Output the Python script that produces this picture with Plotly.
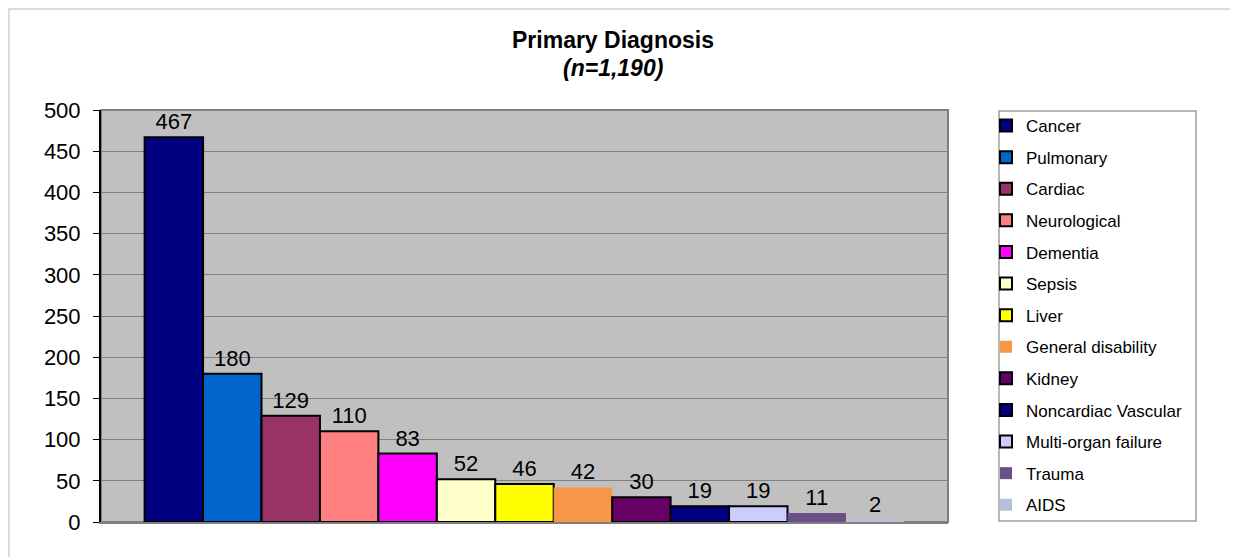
import plotly.graph_objects as go

categories = ["Cancer", "Pulmonary", "Cardiac", "Neurological", "Dementia", "Sepsis",
              "Liver", "General disability", "Kidney", "Noncardiac Vascular",
              "Multi-organ failure", "Trauma", "AIDS"]
values = [467, 180, 129, 110, 83, 52, 46, 42, 30, 19, 19, 11, 2]
colors = ["#000080", "#0066CC", "#993366", "#FF8080", "#FF00FF", "#FFFFCC",
          "#FFFF00", "#F79646", "#660066", "#000080", "#CCCCFF", "#6B5088", "#B4C0DC"]
outlined = [True, True, True, True, True, True, True, False, True, True, True, False, False]
y_ticks = [0, 50, 100, 150, 200, 250, 300, 350, 400, 450, 500]

# page body has an 8px offset; plot area in screen pixels
OFF = 8
W, H = 1238 - OFF, 557 - OFF
L, R, T, B = 101, 948, 110, 522  # screen coords of plot area


def px_x(p):
    return (p - L) / (R - L)


def px_y(p):
    return (B - p) / (B - T)


FONT = "Liberation Sans, Arial, sans-serif"

fig = go.Figure()
for i, (cat, val, col, ol) in enumerate(zip(categories, values, colors, outlined)):
    fig.add_trace(go.Bar(
        x=["Primary Diagnosis"], y=[val], name=cat,
        marker=dict(color=col, line=dict(color="black" if ol else col, width=2 if ol else 0)),
        text=[str(val)], textposition="outside",
        textfont=dict(size=22, color="black", family=FONT),
        cliponaxis=False, legendgroup=cat,
    ))

shapes = [
    # outer chart border
    dict(type="rect", xref="paper", yref="paper",
         x0=px_x(9), x1=px_x(1250), y0=px_y(570), y1=px_y(9),
         line=dict(color="#D0D0D0", width=1.5), layer="below"),
    # plot area border
    dict(type="rect", xref="paper", yref="paper", x0=0, x1=1, y0=0, y1=1,
         line=dict(color="#808080", width=2), layer="below"),
    # legend box
    dict(type="rect", xref="paper", yref="paper",
         x0=px_x(999), x1=px_x(1196), y0=px_y(521), y1=px_y(111),
         line=dict(color="#A0A0A0", width=1.5), fillcolor="white", layer="below"),
]

fig.update_layout(
    width=W, height=H,
    margin=dict(l=L - OFF, r=W - (R - OFF), t=T - OFF, b=H - (B - OFF)),
    paper_bgcolor="white", plot_bgcolor="#C0C0C0",
    barmode="group", bargap=0.103, bargroupgap=0,
    font=dict(family=FONT, color="black"),
    showlegend=True,
    legend=dict(x=px_x(986), y=px_y(108), xanchor="left", yanchor="top",
                bgcolor="rgba(0,0,0,0)", borderwidth=0, maxheight=1000,
                font=dict(size=17, family=FONT, color="black"),
                tracegroupgap=6.5, traceorder="grouped", itemwidth=30),
    shapes=shapes,
    annotations=[
        dict(text="<b>Primary Diagnosis</b>", xref="paper", yref="paper",
             x=px_x(613), y=px_y(40), showarrow=False,
             font=dict(size=23, family=FONT, color="black"), xanchor="center", yanchor="middle"),
        dict(text="<b><i>(n=1,190)</i></b>", xref="paper", yref="paper",
             x=px_x(613), y=px_y(68), showarrow=False,
             font=dict(size=23, family=FONT, color="black"), xanchor="center", yanchor="middle"),
    ],
)
fig.update_xaxes(showticklabels=False, showgrid=False, showline=True,
                 linecolor="#808080", linewidth=2, ticks="", range=[-0.5, 0.5])
fig.update_yaxes(range=[0, 500], tickvals=y_ticks, showgrid=True, gridcolor="#808080",
                 gridwidth=1, zeroline=False, showline=True, linecolor="black", linewidth=2,
                 ticks="outside", ticklen=6, tickcolor="black", ticklabelstandoff=8,
                 tickfont=dict(size=22, family=FONT, color="black"))

fig.write_html("out.html")
